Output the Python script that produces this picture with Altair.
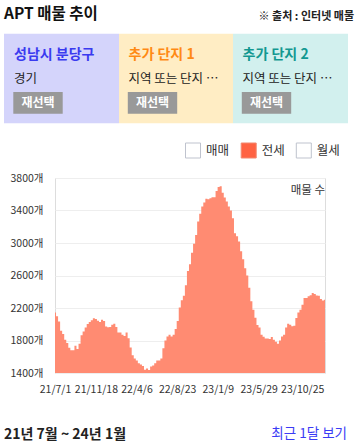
import altair as alt
import pandas as pd

# ---------------- data ----------------
start_date = "2021-07-01"
listing_counts = [
    2146, 2097, 2035, 1920, 1880, 1809, 1769, 1710, 1681, 1681,
    1734, 1694, 1760, 1866, 1910, 1960, 2002, 2027, 2048, 2075,
    2064, 2043, 2027, 2056, 2040, 1973, 1963, 1965, 1995, 2006,
    1965, 1899, 1899, 1870, 1855, 1899, 1829, 1714, 1620, 1580,
    1553, 1520, 1504, 1487, 1440, 1454, 1438, 1479, 1491, 1520,
    1553, 1553, 1580, 1706, 1800, 1850, 1870, 1850, 1870, 1943,
    2040, 2207, 2295, 2352, 2480, 2655, 2740, 2879, 2990, 3100,
    3266, 3360, 3449, 3500, 3545, 3538, 3551, 3563, 3563, 3640,
    3690, 3700, 3620, 3560, 3510, 3450, 3400, 3306, 3120, 3083,
    3020, 2900, 2800, 2690, 2600, 2450, 2282, 2179, 2080, 1990,
    1961, 1870, 1845, 1825, 1825, 1817, 1842, 1810, 1785, 1760,
    1800, 1850, 1870, 1960, 2006, 1994, 1975, 1982, 2076, 2146,
    2180, 2240, 2324, 2324, 2344, 2357, 2385, 2373, 2355, 2352,
    2310, 2291, 2303,
]
tick_dates = ["2021-07-01", "2021-11-18", "2022-04-06", "2022-08-23",
              "2023-01-09", "2023-05-29", "2023-10-25"]
y_ticks = [1400, 1800, 2200, 2600, 3000, 3400, 3800]

panel_names = ["성남시 분당구", "추가 단지 1", "추가 단지 2"]
panel_subs = ["경기", "지역 또는 단지 …", "지역 또는 단지 …"]
legend_labels = ["매매", "전세", "월세"]

dates = pd.date_range(start_date, periods=len(listing_counts), freq="7D")
df = pd.DataFrame({"date": dates, "count": listing_counts})

# ---------------- styles ----------------
FONT = "Noto Sans CJK KR"
OX, OY = 55, 178          # plot origin on the page
W, H = 270, 195
AREA_COLOR = "#FF8B72"
panel_bg = ["#D4D4FB", "#FFEDC4", "#D2F0EE"]
panel_title_colors = ["#3A3AF0", "#FF8A14", "#139891"]
panel_lefts = [4, 119, 233]
panel_rights = [119, 233, 348]

one = alt.Data(values=[{"k": 1}])


def txt(x, y, s, size, color="#222222", weight="normal", align="left"):
    return alt.Chart(one).mark_text(
        text=s, fontSize=size, color=color, fontWeight=weight,
        align=align, baseline="middle", font=FONT
    ).encode(x=alt.value(x - OX), y=alt.value(y - OY))


def box(x1, y1, x2, y2, fill, stroke=None, sw=1):
    kw = dict(fill=fill)
    if stroke:
        kw.update(stroke=stroke, strokeWidth=sw)
    return alt.Chart(one).mark_rect(**kw).encode(
        x=alt.value(x1 - OX), x2=alt.value(x2 - OX),
        y=alt.value(y1 - OY), y2=alt.value(y2 - OY))


tick_vals = []
for d in tick_dates:
    yy, mm, dd = (int(p) for p in d.split("-"))
    tick_vals.append(alt.DateTime(year=yy, month=mm, date=dd))

area = alt.Chart(df).mark_area(
    interpolate="step", color=AREA_COLOR, clip=True
).encode(
    x=alt.X("date:T", title=None,
            scale=alt.Scale(domain=[alt.DateTime(year=2021, month=7, date=1),
                                    alt.DateTime(year=2024, month=1, date=11)]),
            axis=alt.Axis(values=tick_vals, format="%y/%-m/%-d", grid=False,
                          ticks=False, domain=False, labelPadding=11,
                          labelFontSize=10.5, labelColor="#333333",
                          labelOverlap=False, labelFlush=False, labelFont=FONT)),
    y=alt.Y("count:Q", title=None, stack=None,
            scale=alt.Scale(domain=[1400, 3800], zero=False, nice=False, clamp=True),
            axis=alt.Axis(values=y_ticks, labelExpr="datum.value + '개'",
                          ticks=False, domain=False, labelPadding=12,
                          labelFontSize=10.5, labelColor="#333333",
                          gridColor="#EEEEEE", labelFont=FONT)),
)

layers = [area]

# header
layers.append(txt(4, 13.5, "APT 매물 추이", 15.5, "#111111", "bold"))
layers.append(txt(354, 17, "※ 출처 : 인터넷 매물", 11, "#222222", "bold", "right"))

# panels
for i in range(3):
    l, r = panel_lefts[i], panel_rights[i]
    layers.append(box(l, 33.7, r, 123.3, panel_bg[i]))
    tx = l + 10 if i == 0 else l + 9.5
    layers.append(txt(tx, 55, panel_names[i], 14, panel_title_colors[i], "bold"))
    layers.append(txt(tx, 78.5, panel_subs[i], 12.5, "#222222"))
    layers.append(box(tx - 0.7, 92, tx + 48.7, 113.7, "#999999"))
    layers.append(txt(tx + 24, 103, "재선택", 12, "#FFFFFF", "bold", "center"))

# legend
leg_x = [185.5, 241.2, 296.3]
for i, lab in enumerate(legend_labels):
    if i == 1:
        layers.append(box(leg_x[i], 143, leg_x[i] + 15, 158, "#FF6242", "#F2876E", 1))
    else:
        layers.append(box(leg_x[i], 143, leg_x[i] + 15, 158, "#FFFFFF", "#BFC3CE", 1))
    layers.append(txt(leg_x[i] + 20.5, 150.5, lab, 12.5, "#333333"))

# in-plot label
layers.append(txt(325, 190.5, "매물 수", 11.5, "#333333", "normal", "right"))

# footer
layers.append(txt(4, 434.5, "21년 7월 ~ 24년 1월", 14, "#222222", "bold"))
layers.append(txt(347, 434, "최근 1달 보기", 13.5, "#3B3BF5", "normal", "right"))

chart = alt.layer(*layers).properties(
    width=W, height=H,
    autosize=alt.AutoSizeParams(type="none"),
    padding={"left": OX, "top": OY, "right": 356 - OX - W, "bottom": 447 - OY - H},
    background="#FFFFFF",
).configure_view(
    stroke="#E6E6E6", strokeWidth=1
).configure(font=FONT)

chart.save("out.html", embed_options={"renderer": "svg", "actions": False})
